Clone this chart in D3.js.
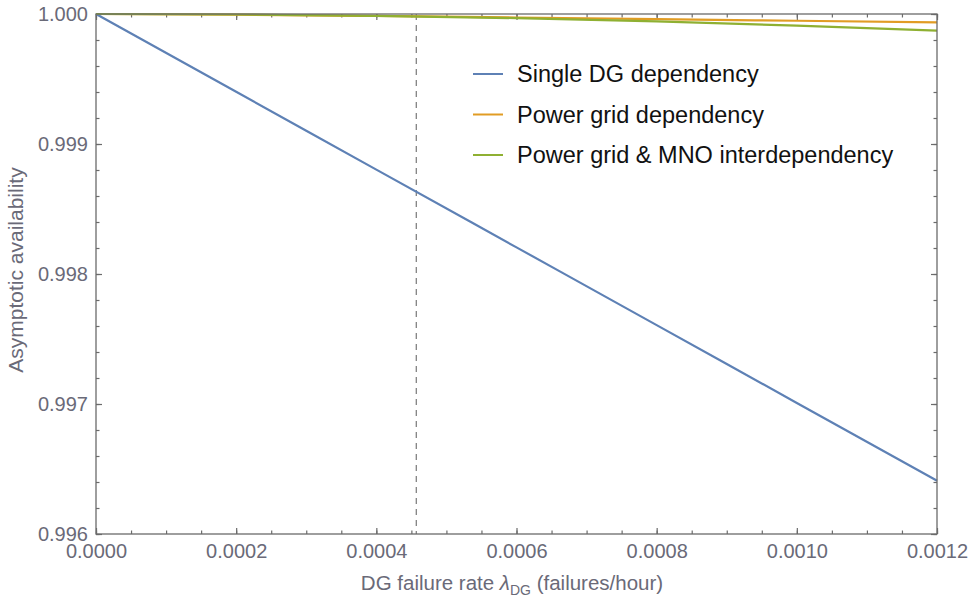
<!DOCTYPE html>
<html>
<head>
<meta charset="utf-8">
<script src="https://cdn.jsdelivr.net/npm/d3@7"></script>
<style>
  body { margin: 0; background: #fff; }
  svg text { font-family: "Liberation Sans", Arial, sans-serif; }
</style>
</head>
<body>
<div class="chart"></div>
<script>
// DG failure rate samples (failures/hour)
const rates = [0, 0.0002, 0.0004, 0.0006, 0.0008, 0.0010, 0.0012];

// asymptotic availability
const singleDG = [1.0, 0.999402, 0.998803, 0.998205, 0.997607, 0.997008, 0.99641];
const powerGrid = [1.0, 0.999995, 0.999985, 0.999973, 0.99996, 0.999948, 0.999936];
const powerGridMNO = [1.0, 0.999996, 0.999986, 0.999968, 0.999943, 0.99991, 0.999872];

const seriesNames = [
  "Single DG dependency",
  "Power grid dependency",
  "Power grid & MNO interdependency",
];
const seriesColors = ["#5e81b5", "#e19c24", "#8fb032"];

const xTicks = [0, 0.0002, 0.0004, 0.0006, 0.0008, 0.001, 0.0012];
const yTicks = [0.996, 0.997, 0.998, 0.999, 1.0];
const markerRate = 0.000457;

const W = 973,
  H = 602;
const margin = { top: 14, right: 36, bottom: 68, left: 96 },
  width = W - margin.left - margin.right,
  height = H - margin.top - margin.bottom;

const svg = d3
  .select(".chart")
  .append("svg")
  .attr("width", W)
  .attr("height", H);

const g = svg
  .append("g")
  .attr("transform", `translate(${margin.left},${margin.top})`);

const xScale = d3.scaleLinear().domain([0, 0.0012]).range([0, width]);
const yScale = d3.scaleLinear().domain([0.996, 1.0]).range([height, 0]);

const frameColor = "#6b6b6b";
const labelColor = "#6a6a78";

// minor ticks
const xMinor = d3.range(0, 0.0012 + 1e-9, 0.00005);
const yMinor = d3.range(0.996, 1.0 + 1e-9, 0.0002);

const styleAxis = (a) =>
  a
    .call((a) => a.select(".domain").remove())
    .call((a) => a.selectAll(".tick line").attr("stroke", frameColor).attr("stroke-width", 1.2))
    .call((a) =>
      a
        .selectAll(".tick text")
        .attr("fill", labelColor)
        .attr("font-size", 20)
        .attr("font-family", "Liberation Sans, Arial, sans-serif")
    );

// bottom
g.append("g")
  .attr("transform", `translate(0,${height})`)
  .call(d3.axisTop(xScale).tickValues(xMinor).tickSize(3.5).tickFormat(""))
  .call(styleAxis);
g.append("g")
  .attr("transform", `translate(0,${height})`)
  .call(d3.axisTop(xScale).tickValues(xTicks).tickSize(6).tickFormat(""))
  .call(styleAxis);
g.append("g")
  .attr("transform", `translate(0,${height})`)
  .call(d3.axisBottom(xScale).tickValues(xTicks).tickSize(0).tickPadding(10).tickFormat(d3.format(".4f")))
  .call(styleAxis);

// top
g.append("g")
  .call(d3.axisBottom(xScale).tickValues(xMinor).tickSize(3.5).tickFormat(""))
  .call(styleAxis);
g.append("g")
  .call(d3.axisBottom(xScale).tickValues(xTicks).tickSize(6).tickFormat(""))
  .call(styleAxis);

// left
g.append("g")
  .call(d3.axisRight(yScale).tickValues(yMinor).tickSize(3.5).tickFormat(""))
  .call(styleAxis);
g.append("g")
  .call(d3.axisRight(yScale).tickValues(yTicks).tickSize(6).tickFormat(""))
  .call(styleAxis);
g.append("g")
  .call(d3.axisLeft(yScale).tickValues(yTicks).tickSize(0).tickPadding(8).tickFormat(d3.format(".3f")))
  .call(styleAxis);

// right
g.append("g")
  .attr("transform", `translate(${width},0)`)
  .call(d3.axisLeft(yScale).tickValues(yMinor).tickSize(3.5).tickFormat(""))
  .call(styleAxis);
g.append("g")
  .attr("transform", `translate(${width},0)`)
  .call(d3.axisLeft(yScale).tickValues(yTicks).tickSize(6).tickFormat(""))
  .call(styleAxis);

// dashed marker
g.append("line")
  .attr("x1", xScale(markerRate))
  .attr("x2", xScale(markerRate))
  .attr("y1", 0)
  .attr("y2", height)
  .attr("stroke", "#777")
  .attr("stroke-width", 1.2)
  .attr("stroke-dasharray", "6,5");

// curves
const line = d3
  .line()
  .x((d) => xScale(d[0]))
  .y((d) => yScale(d[1]))
  .curve(d3.curveMonotoneX);

[singleDG, powerGrid, powerGridMNO].forEach((vals, i) => {
  g.append("path")
    .datum(rates.map((r, j) => [r, vals[j]]))
    .attr("fill", "none")
    .attr("stroke", seriesColors[i])
    .attr("stroke-width", 2.2)
    .attr("d", line);
});

// frame
g.append("rect")
  .attr("width", width)
  .attr("height", height)
  .attr("fill", "none")
  .attr("stroke", frameColor)
  .attr("stroke-width", 1.3);

// legend
const legend = svg.append("g").attr("transform", "translate(473,74)");
seriesNames.forEach((name, i) => {
  const row = legend.append("g").attr("transform", `translate(0,${i * 40.5})`);
  row.append("line")
    .attr("x1", 0)
    .attr("x2", 30)
    .attr("stroke", seriesColors[i])
    .attr("stroke-width", 2);
  row.append("text")
    .attr("x", 44)
    .attr("dy", "0.35em")
    .attr("font-size", 23.5)
    .attr("fill", "#111")
    .text(name);
});

// axis titles
const xt = svg
  .append("text")
  .attr("x", 512)
  .attr("y", 590)
  .attr("text-anchor", "middle")
  .attr("font-size", 20.5)
  .attr("fill", labelColor);
xt.append("tspan").text("DG failure rate ");
xt.append("tspan").attr("font-style", "italic").text("λ");
xt.append("tspan").attr("font-size", 14).attr("dy", 5).text("DG");
xt.append("tspan").attr("dy", -5).text(" (failures/hour)");

svg
  .append("text")
  .attr("transform", `translate(23,270) rotate(-90)`)
  .attr("text-anchor", "middle")
  .attr("font-size", 21)
  .attr("fill", labelColor)
  .text("Asymptotic availability");
</script>
</body>
</html>
